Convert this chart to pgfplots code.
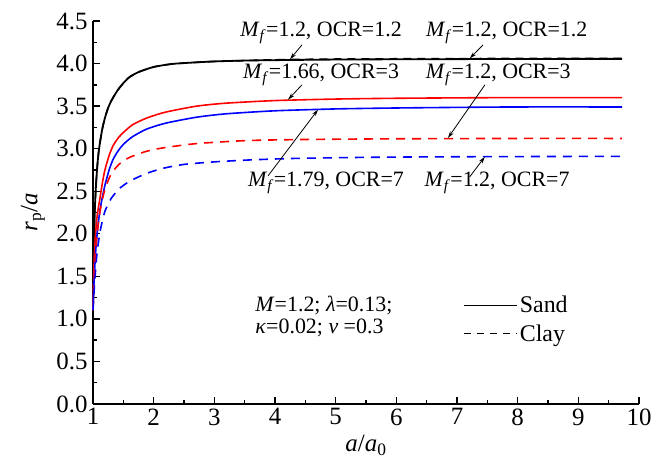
\documentclass[border=0pt]{standalone}
\usepackage{fontspec}
\setmainfont{Liberation Serif}
\usepackage{pgfplots}
\pgfplotsset{compat=1.18}
\usetikzlibrary{arrows.meta}
\newcommand{\Mf}{\textit{M}\textsubscript{\textit{f}}}
\begin{document}
\begin{tikzpicture}
\begin{axis}[
 name=ax,
 scale only axis, width=546bp, height=383bp,
 xmin=1, xmax=10, ymin=0, ymax=4.5,
 axis x line*=bottom, axis y line*=left,
 axis line style={line width=1.6bp},
 xtick={1,2,3,4,5,6,7,8,9,10},
 ytick={0,0.5,1,1.5,2,2.5,3,3.5,4,4.5},
 minor x tick num=1, minor y tick num=1,
 tick align=inside,
 major tick length=7bp, minor tick length=4bp,
 every tick/.style={line width=1.4bp, black},
 /pgf/number format/assume math mode=true,
 tick label style={font=\fontsize{25}{30}\selectfont},
 yticklabel style={xshift=-2bp, /pgf/number format/.cd, fixed, fixed zerofill, precision=1},
 xticklabel style={yshift=-1bp, /pgf/number format/.cd, fixed, precision=0},
 xlabel={\textit{a}/\textit{a}\textsubscript{0}},
 ylabel={\textit{r}\textsubscript{p}/\textit{a}},
 xlabel style={at={(axis description cs:0.5,-0.108)}, anchor=center, font=\fontsize{25}{29}\selectfont},
 ylabel style={at={(axis description cs:-0.1099,0.5)}, anchor=center, font=\fontsize{25}{29}\selectfont},
 clip=false,
 legend style={at={(axis cs:7.1,1.29)}, anchor=north west, draw=none, fill=none,
   font=\fontsize{24}{28}\selectfont, row sep=6bp, inner sep=0pt},
 legend cell align=left,
 legend image code/.code={\draw[#1] (0bp,0bp) -- (53bp,0bp);},
]
% Sand, Mf=1.2, OCR=1.2
\addplot[black, line width=1.8bp, smooth, tension=0.4, forget plot] coordinates {
(1,1.1)(1.01,1.65)(1.02,1.98)(1.03,2.28)(1.05,2.58)(1.075,2.83)(1.1,3.0)(1.15,3.22)(1.2,3.37)(1.25,3.48)(1.3,3.56)(1.4,3.68)(1.5,3.77)(1.6,3.84)(1.75,3.9)(2,3.96)(2.3,3.995)(2.6,4.01)(3,4.025)(3.5,4.035)(4,4.04)(5,4.047)(6,4.05)(7,4.052)(8,4.054)(9,4.055)(9.72,4.055)};
% Clay, Mf=1.2, OCR=1.2
\addplot[black, line width=1.6bp, dash pattern=on 8bp off 6bp, smooth, tension=0.4, forget plot] coordinates {
(1,1.1)(1.01,1.65)(1.02,1.98)(1.03,2.28)(1.05,2.58)(1.075,2.83)(1.1,3.0)(1.15,3.22)(1.2,3.37)(1.25,3.48)(1.3,3.56)(1.4,3.68)(1.5,3.77)(1.6,3.84)(1.75,3.9)(2,3.96)(2.3,3.995)(2.6,4.01)(3,4.025)(3.5,4.035)(4,4.045)(5,4.053)(6,4.056)(7,4.058)(8,4.06)(9,4.06)(9.72,4.06)};
% Sand, Mf=1.66, OCR=3
\addplot[red, line width=1.6bp, smooth, tension=0.4, forget plot] coordinates {
(1,1.1)(1.01,1.45)(1.02,1.7)(1.04,1.98)(1.07,2.22)(1.115,2.42)(1.16,2.62)(1.2,2.76)(1.27,2.93)(1.335,3.04)(1.42,3.13)(1.5,3.19)(1.65,3.28)(1.885,3.36)(2.2,3.43)(2.71,3.5)(3.2,3.535)(4,3.565)(5,3.583)(6,3.592)(7,3.597)(8,3.6)(9.72,3.6)};
% Sand, Mf=1.79, OCR=7
\addplot[blue, line width=1.6bp, smooth, tension=0.4, forget plot] coordinates {
(1,1.12)(1.015,1.4)(1.03,1.62)(1.05,1.85)(1.08,2.08)(1.115,2.28)(1.16,2.45)(1.2,2.58)(1.27,2.76)(1.335,2.88)(1.42,2.98)(1.5,3.05)(1.65,3.14)(1.885,3.23)(2.2,3.3)(2.71,3.37)(3.2,3.41)(4,3.445)(5,3.467)(6,3.478)(7,3.485)(8,3.49)(9.72,3.49)};
% Clay, Mf=1.2, OCR=3
\addplot[red, line width=1.6bp, dash pattern=on 9bp off 7bp, smooth, tension=0.4, forget plot] coordinates {
(1,1.1)(1.015,1.4)(1.03,1.62)(1.05,1.85)(1.08,2.07)(1.115,2.26)(1.16,2.42)(1.2,2.53)(1.27,2.66)(1.335,2.74)(1.45,2.83)(1.61,2.9)(1.885,2.97)(2.16,3.01)(2.71,3.06)(3.53,3.095)(4.5,3.108)(6,3.116)(8,3.12)(9.72,3.12)};
% Clay, Mf=1.2, OCR=7
\addplot[blue, line width=1.6bp, dash pattern=on 9bp off 7bp, smooth, tension=0.4, forget plot] coordinates {
(1,1.1)(1.02,1.35)(1.055,1.69)(1.08,1.85)(1.115,2.02)(1.16,2.17)(1.2,2.27)(1.27,2.38)(1.335,2.45)(1.45,2.54)(1.61,2.62)(1.885,2.71)(2.16,2.77)(2.5,2.815)(3,2.845)(3.6,2.868)(4.3,2.885)(5.5,2.898)(7,2.905)(9.72,2.91)};

\addlegendimage{black, line width=1.6bp}
\addlegendentry{Sand}
\addlegendimage{black, line width=1.4bp, dash pattern=on 7bp off 6bp}
\addlegendentry{Clay}

% annotations
\begin{scope}[font=\fontsize{22}{26}\selectfont]
\node at (axis cs:4.76,4.36) {\Mf=1.2, OCR=1.2};
\node at (axis cs:7.82,4.36) {\Mf=1.2, OCR=1.2};
\node at (axis cs:4.76,3.87) {\Mf=1.66, OCR=3};
\node at (axis cs:7.68,3.87) {\Mf=1.2, OCR=3};
\node at (axis cs:4.84,2.60) {\Mf=1.79, OCR=7};
\node at (axis cs:7.66,2.60) {\Mf=1.2, OCR=7};
\node[anchor=west] at (axis cs:3.62,1.16) {\textit{M}=1.2; \textit{λ}=0.13;};
\node[anchor=west] at (axis cs:3.62,0.90) {\textit{κ}=0.02; \textit{ν} =0.3};
\end{scope}
\begin{scope}[line width=0.8bp, -{Stealth[length=7bp,width=4bp]}]
\draw (axis cs:4.445,4.22) -- (axis cs:4.247,4.05);
\draw (axis cs:7.43,4.22) -- (axis cs:7.21,4.06);
\draw (axis cs:4.445,3.75) -- (axis cs:4.214,3.575);
\draw (axis cs:7.46,3.75) -- (axis cs:6.85,3.125);
\draw (axis cs:3.885,2.68) -- (axis cs:4.71,3.46);
\draw (axis cs:7.21,2.67) -- (axis cs:7.46,2.905);
\end{scope}
\end{axis}
\pgfresetboundingbox
\path ([shift={(-93bp,-55bp)}]ax.south west) rectangle ([shift={(26bp,21bp)}]ax.north east);
\end{tikzpicture}
\end{document}
